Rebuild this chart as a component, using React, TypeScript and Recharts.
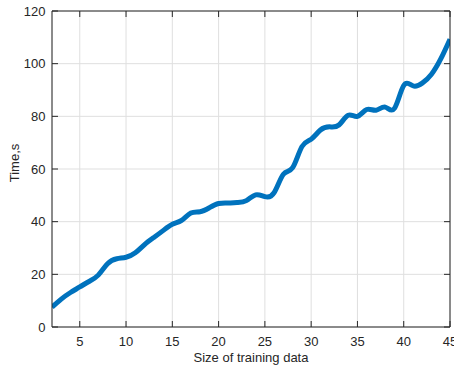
import React from "react";
import { LineChart, Line, XAxis, YAxis, CartesianGrid, Label } from "recharts";

const sizes = [2, 3, 4, 5, 6, 7, 8, 9, 10, 11, 12, 13, 14, 15, 16, 17, 18, 19, 20, 21, 22, 23, 24, 25, 26, 27, 28, 29, 30, 31, 32, 33, 34, 35, 36, 37, 38, 39, 40, 41, 42, 43, 44, 45];
const times = [7.5, 10.6, 13.1, 15.2, 17.3, 19.7, 24, 25.9, 26.5, 28.2, 31.3, 34, 36.6, 39, 40.5, 43.3, 43.8, 45.3, 46.9, 47.1, 47.3, 48, 50.2, 49.5, 51, 58, 60.5, 68.5, 71.3, 74.8, 76, 76.7, 80.4, 80, 82.6, 82.3, 83.5, 83, 91.7, 91.6, 92.6, 96, 101.8, 109.3];
const xTicks = [5, 10, 15, 20, 25, 30, 35, 40, 45];
const yTicks = [0, 20, 40, 60, 80, 100, 120];

const data = sizes.map((s, i) => ({ size: s, time: times[i] }));

const AXIS = "#262626";
const FONT = "'Liberation Sans', Arial, Helvetica, sans-serif";
const FS = 13;

function BottomTick({ x, y, payload }: any) {
  return (
    <g>
      <line x1={x} y1={y} x2={x} y2={y - 6} stroke={AXIS} />
      <text x={x} y={y + 10} dy="0.71em" textAnchor="middle" fill={AXIS} fontSize={FS} fontFamily={FONT}>
        {payload.value}
      </text>
    </g>
  );
}

function TopTick({ x, y }: any) {
  return <line x1={x} y1={y} x2={x} y2={y + 6} stroke={AXIS} />;
}

function LeftTick({ x, y, payload }: any) {
  return (
    <g>
      <line x1={x} y1={y} x2={x + 6} y2={y} stroke={AXIS} />
      <text x={x - 6.5} y={y} dy="0.355em" textAnchor="end" fill={AXIS} fontSize={FS} fontFamily={FONT}>
        {payload.value}
      </text>
    </g>
  );
}

function RightTick({ x, y }: any) {
  return <line x1={x} y1={y} x2={x - 6} y2={y} stroke={AXIS} />;
}

function YTitle({ viewBox }: any) {
  const cx = viewBox.x + 14;
  const cy = viewBox.y + viewBox.height / 2 - 6;
  return (
    <text x={cx} y={cy} transform={`rotate(-90 ${cx} ${cy})`} textAnchor="middle" dy="0.355em" fill={AXIS} fontSize={FS} fontFamily={FONT}>
      Time,s
    </text>
  );
}

export default function App() {
  return (
    <div style={{ position: "absolute", left: 0, top: 0, width: 454, height: 369, background: "#fff" }}>
      <LineChart width={454} height={369} data={data} margin={{ top: 10, right: 3, bottom: 0, left: 0 }}>
        <CartesianGrid stroke="#dfdfdf" />
        <XAxis
          dataKey="size"
          type="number"
          domain={[2, 45]}
          ticks={xTicks}
          allowDataOverflow
          height={42}
          tickSize={0}
          tickMargin={0}
          tick={<BottomTick />}
          axisLine={{ stroke: AXIS }}
          interval={0}
        >
          <Label value="Size of training data" position="insideBottom" offset={7} fill={AXIS} fontSize={FS} fontFamily={FONT} />
        </XAxis>
        <XAxis
          xAxisId="top"
          orientation="top"
          dataKey="size"
          type="number"
          domain={[2, 45]}
          ticks={xTicks}
          allowDataOverflow
          height={1}
          tickSize={0}
          tickMargin={0}
          tick={<TopTick />}
          axisLine={{ stroke: AXIS }}
          interval={0}
        />
        <YAxis
          type="number"
          domain={[0, 120]}
          ticks={yTicks}
          width={52}
          tickSize={0}
          tickMargin={0}
          tick={<LeftTick />}
          axisLine={{ stroke: AXIS }}
          interval={0}
        >
          <Label content={<YTitle />} />
        </YAxis>
        <YAxis
          yAxisId="right"
          orientation="right"
          type="number"
          domain={[0, 120]}
          ticks={yTicks}
          width={1}
          tickSize={0}
          tickMargin={0}
          tick={<RightTick />}
          axisLine={{ stroke: AXIS }}
          interval={0}
        />
        {/* invisible twin so the top/right frame axes have a series */}
        <Line
          xAxisId="top"
          yAxisId="right"
          dataKey="time"
          stroke="none"
          dot={false}
          activeDot={false}
          isAnimationActive={false}
        />
        <Line
          type="natural"
          dataKey="time"
          stroke="#0072BD"
          strokeWidth={5}
          dot={false}
          isAnimationActive={false}
        />
      </LineChart>
    </div>
  );
}
